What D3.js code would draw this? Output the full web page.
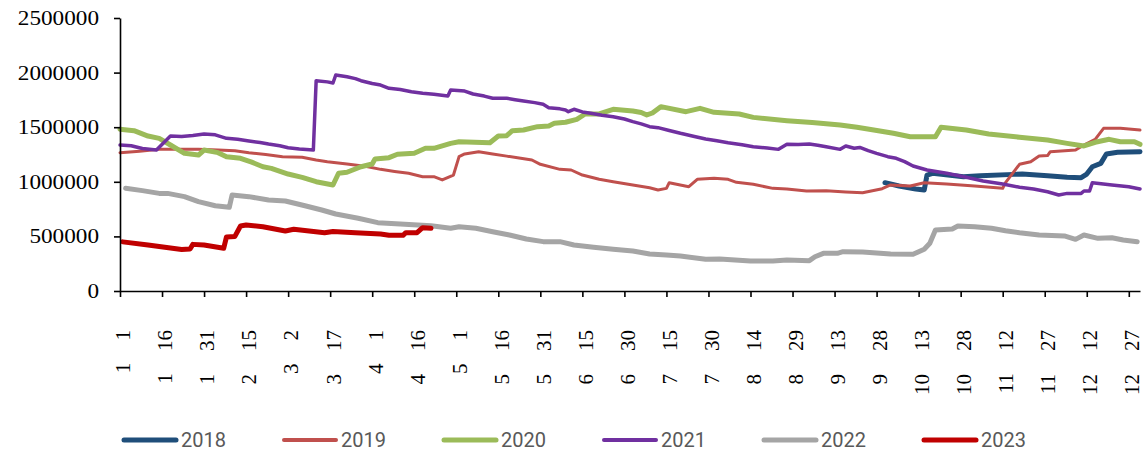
<!DOCTYPE html>
<html>
<head>
<meta charset="utf-8">
<script src="https://cdn.jsdelivr.net/npm/d3@7"></script>
<style>
    body { margin: 0; background: #fff; }
    svg { display: block; }
</style>
</head>
<body>
<div id="chart"></div>
<script>
// day-of-year (0 = Jan 1) and value
const s2018 = [[273,992000],[278,962000],[284,934000],[287,925000],[288,1062000],[290,1078000],[301,1047000],[307,1056000],[319,1068000],[322,1071000],[331,1056000],[338,1041000],[343,1038000],[345,1071000],[347,1138000],[350,1169000],[352,1255000],[356,1270000],[364,1276000]];

const s2019 = [[0,1267000],[7,1280000],[14,1297000],[28,1297000],[35,1292000],[41,1285000],[46,1267000],[52,1250000],[58,1230000],[65,1224000],[70,1200000],[74,1184000],[81,1163000],[88,1140000],[93,1114000],[98,1095000],[103,1078000],[108,1047000],[112,1047000],[115,1017000],[119,1062000],[121,1230000],[123,1255000],[128,1276000],[133,1255000],[138,1235000],[143,1215000],[147,1200000],[150,1160000],[157,1114000],[161,1108000],[165,1062000],[171,1023000],[176,1001000],[183,971000],[189,946000],[192,925000],[195,940000],[196,992000],[203,955000],[206,1023000],[212,1032000],[217,1023000],[220,995000],[226,977000],[233,940000],[238,934000],[245,916000],[252,919000],[259,907000],[265,900000],[272,937000],[275,971000],[282,962000],[287,992000],[295,980000],[305,962000],[315,940000],[316,992000],[319,1093000],[321,1160000],[325,1184000],[328,1236000],[331,1240000],[332,1276000],[341,1291000],[344,1337000],[348,1389000],[351,1490000],[357,1490000],[364,1474000]];

const s2020 = [[0,1481000],[5,1468000],[10,1419000],[14,1398000],[18,1337000],[23,1261000],[28,1245000],[30,1291000],[35,1267000],[38,1230000],[43,1215000],[47,1180000],[51,1138000],[54,1123000],[60,1071000],[65,1041000],[70,1001000],[76,971000],[78,1078000],[81,1087000],[86,1138000],[90,1163000],[91,1209000],[96,1221000],[99,1252000],[105,1261000],[109,1307000],[112,1307000],[118,1352000],[121,1367000],[132,1358000],[135,1419000],[138,1422000],[140,1468000],[144,1474000],[149,1505000],[153,1511000],[155,1536000],[159,1545000],[163,1572000],[166,1621000],[171,1621000],[176,1664000],[183,1648000],[186,1635000],[188,1612000],[190,1630000],[193,1688000],[202,1642000],[207,1673000],[212,1636000],[221,1621000],[226,1590000],[238,1560000],[247,1542000],[257,1520000],[263,1500000],[269,1474000],[276,1444000],[282,1413000],[291,1413000],[293,1499000],[302,1474000],[310,1438000],[321,1408000],[331,1383000],[338,1352000],[344,1328000],[348,1362000],[353,1389000],[357,1367000],[362,1367000],[364,1343000]];

const s2021 = [[0,1337000],[4,1330000],[8,1305000],[13,1291000],[18,1420000],[22,1415000],[26,1425000],[30,1438000],[34,1430000],[38,1398000],[42,1390000],[46,1374000],[50,1360000],[53,1346000],[57,1330000],[60,1312000],[64,1300000],[69,1291000],[70,1926000],[74,1915000],[76,1905000],[77,1978000],[81,1962000],[84,1945000],[86,1926000],[90,1900000],[93,1886000],[96,1856000],[100,1845000],[104,1825000],[108,1810000],[112,1801000],[117,1786000],[118,1841000],[123,1831000],[126,1804000],[130,1785000],[133,1765000],[138,1765000],[141,1752000],[144,1740000],[148,1725000],[151,1710000],[153,1679000],[157,1668000],[159,1658000],[160,1642000],[162,1664000],[165,1640000],[168,1627000],[172,1610000],[176,1596000],[180,1575000],[183,1551000],[186,1530000],[189,1505000],[192,1496000],[196,1470000],[200,1444000],[205,1415000],[209,1392000],[213,1375000],[217,1358000],[222,1340000],[226,1321000],[231,1310000],[235,1297000],[238,1343000],[242,1342000],[246,1346000],[249,1335000],[252,1321000],[257,1297000],[259,1328000],[262,1307000],[264,1315000],[267,1285000],[270,1260000],[274,1230000],[277,1215000],[280,1185000],[283,1145000],[288,1108000],[295,1078000],[302,1041000],[308,1007000],[315,980000],[321,950000],[326,934000],[331,909000],[335,879000],[338,894000],[343,894000],[344,916000],[346,916000],[347,992000],[354,971000],[360,955000],[364,934000]];

const s2022 = [[2,940000],[8,919000],[14,894000],[17,894000],[23,864000],[28,818000],[34,781000],[39,766000],[40,879000],[46,864000],[53,833000],[59,824000],[66,781000],[72,742000],[77,705000],[85,666000],[92,626000],[100,614000],[111,598000],[118,574000],[121,589000],[127,574000],[133,543000],[139,513000],[145,476000],[151,452000],[157,452000],[162,421000],[169,400000],[176,382000],[183,366000],[189,339000],[195,330000],[200,320000],[209,290000],[214,292000],[225,275000],[233,275000],[238,284000],[246,278000],[248,314000],[251,345000],[256,345000],[258,360000],[265,358000],[275,339000],[283,336000],[287,382000],[289,437000],[291,559000],[297,568000],[299,595000],[305,589000],[311,574000],[316,552000],[321,534000],[328,513000],[337,504000],[341,473000],[344,513000],[349,482000],[354,488000],[358,467000],[363,452000]];

const s2023 = [[1,450000],[10,421000],[16,400000],[22,380000],[25,385000],[26,427000],[30,421000],[37,391000],[38,495000],[41,500000],[43,595000],[45,604000],[51,589000],[59,549000],[62,565000],[73,534000],[76,545000],[84,534000],[93,522000],[96,510000],[101,510000],[102,534000],[106,534000],[108,580000],[111,574000]];

const seriesNames = ['2018', '2019', '2020', '2021', '2022', '2023'];
const seriesData = [s2018, s2019, s2020, s2021, s2022, s2023];
const seriesColors = ['#1F4E7A', '#C0504D', '#9BBB59', '#7030A0', '#A5A5A5', '#C00000'];
const seriesWidths = [5, 3, 5, 3.5, 5, 5];

// x tick labels: month and day, every 15 days
const tickMonths = [1,1,1,2,3,3,4,4,5,5,5,6,6,7,7,8,8,9,9,10,10,11,11,12,12];
const tickDays = [1,16,31,15,2,17,1,16,1,16,31,15,30,15,30,14,29,13,28,13,28,12,27,12,27];
const yTicks = [0, 500000, 1000000, 1500000, 2000000, 2500000];

const width = 1145,
    height = 453,
    plotLeft = 120,
    plotRight = 1140,
    plotTop = 18,
    plotBottom = 291;

const svg = d3.select('#chart').append('svg')
    .attr('width', width)
    .attr('height', height);

const x = d3.scaleLinear().domain([0, 364]).range([plotLeft, plotRight]);
const y = d3.scaleLinear().domain([0, 2500000]).range([plotBottom, plotTop]);

const dayOfYear = (m, d) => {
    const date = new Date(2019, m - 1, d);
    return d3.timeDay.count(d3.timeYear(date), date);
};
const tickPos = tickMonths.map((m, i) => dayOfYear(m, tickDays[i]));

// lines
const line = d3.line()
    .x(d => x(d[0]))
    .y(d => y(d[1]));

seriesData.forEach((data, i) => {
    svg.append('path')
        .datum(data)
        .attr('d', line)
        .attr('fill', 'none')
        .attr('stroke', seriesColors[i])
        .attr('stroke-width', seriesWidths[i])
        .attr('stroke-linejoin', 'round')
        .attr('stroke-linecap', 'round');
});

// y axis
const yAxis = svg.append('g')
    .attr('transform', 'translate(' + plotLeft + ',0)')
    .call(d3.axisLeft(y).tickValues(yTicks).tickSize(6).tickSizeOuter(0).tickPadding(15).tickFormat(d3.format('d')));

yAxis.select('.domain').attr('stroke', '#000').attr('stroke-width', 1.6);
yAxis.selectAll('.tick line').attr('stroke', '#000').attr('stroke-width', 1.6);
yAxis.selectAll('.tick text')
    .attr('fill', '#000')
    .style('font-family', '"Liberation Serif", "Times New Roman", serif')
    .style('font-size', '20px')
    .attr('textLength', d => String(d).length * 11.6)
    .attr('lengthAdjust', 'spacingAndGlyphs');

// x axis
const xAxis = svg.append('g')
    .attr('transform', 'translate(0,' + plotBottom + ')')
    .call(d3.axisBottom(x).tickValues(tickPos).tickSize(6).tickSizeOuter(0).tickFormat(''));

xAxis.select('.domain').attr('stroke', '#000').attr('stroke-width', 1.6);
xAxis.selectAll('.tick line').attr('stroke', '#000').attr('stroke-width', 1.6);
xAxis.selectAll('.tick text').remove();

const labels = svg.append('g')
    .style('font-family', '"Liberation Serif", "Times New Roman", serif')
    .style('font-size', '21px')
    .attr('fill', '#000');

tickPos.forEach((p, i) => {
    const lx = x(p) + 3, ly = 330;
    const t = labels.append('text')
        .attr('transform', 'translate(' + lx + ',' + ly + ') rotate(-90)')
        .attr('text-anchor', 'end')
        .attr('dy', '0.35em');
    t.append('tspan').text(tickMonths[i]);
    t.append('tspan').attr('dx', 23).text(tickDays[i]);
});

// legend
const legend = svg.append('g')
    .attr('transform', 'translate(122,440)');

seriesNames.forEach((name, i) => {
    const g = legend.append('g')
        .attr('transform', 'translate(' + (i * 160) + ',0)');
    g.append('line')
        .attr('x1', 2)
        .attr('x2', 54)
        .attr('stroke', seriesColors[i])
        .attr('stroke-width', Math.max(seriesWidths[i], 4))
        .attr('stroke-linecap', 'round');
    g.append('text')
        .attr('x', 59)
        .attr('dy', '0.36em')
        .attr('fill', '#595959')
        .style('font-family', 'Roboto, sans-serif')
        .style('font-size', '20px')
        .text(name);
});
</script>
</body>
</html>
